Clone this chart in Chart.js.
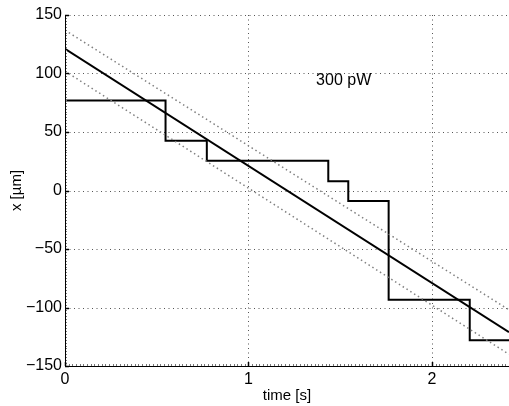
<!DOCTYPE html>
<html><head><meta charset="utf-8">
<script src="https://cdn.jsdelivr.net/npm/chart.js@4/dist/chart.umd.min.js"></script>
<style>html,body{margin:0;padding:0;background:#fff}#wrap{width:509px;height:406px}</style>
</head><body><div id="wrap"><canvas id="c" width="509" height="406"></canvas></div>
<script>
// ---- data ----
const stepTimes   = [0, 0.548, 0.773, 1.435, 1.544, 1.764, 2.206, 2.42];
const stepValues  = [77, 42.5, 25.5, 8, -9, -93.3, -128, -128];
const fitTimes    = [0, 2.42];
const fitValues   = [121, -121];
const upperValues = [137, -102];
const lowerValues = [102, -140];
const xTicks = [0, 1, 2];
const yTicks = [-150, -100, -50, 0, 50, 100, 150];
const annotationText = '300 pW';
const annotationAt = [1.519, 94];

const FONT = "'Liberation Sans', Arial, Helvetica, sans-serif";
const pts = (xs, ys) => xs.map((x, i) => ({x: x, y: ys[i]}));

const axesPlugin = {
  id: 'matlabAxes',
  beforeDatasetsDraw(chart) {
    const {ctx, chartArea: a, scales: {x, y}} = chart;
    ctx.save();
    ctx.strokeStyle = '#555';
    ctx.lineWidth = 1;
    ctx.setLineDash([1, 3.5]);
    xTicks.forEach(v => {
      if (v === x.min) return;
      const px = Math.round(x.getPixelForValue(v)) + 0.5;
      ctx.beginPath(); ctx.moveTo(px, a.top); ctx.lineTo(px, a.bottom); ctx.stroke();
    });
    yTicks.forEach(v => {
      if (v === y.min) return;
      const py = Math.round(y.getPixelForValue(v)) + 0.5;
      ctx.beginPath(); ctx.moveTo(a.left, py); ctx.lineTo(a.right, py); ctx.stroke();
    });
    ctx.restore();
  },
  afterDatasetsDraw(chart) {
    const {ctx, chartArea: a, scales: {x, y}} = chart;
    ctx.save();
    // minor ticks
    ctx.strokeStyle = '#777';
    ctx.lineWidth = 1;
    for (let v = y.min; v <= y.max; v += 2.5) {
      const py = Math.round(y.getPixelForValue(v)) + 0.5;
      ctx.beginPath(); ctx.moveTo(a.left, py); ctx.lineTo(a.left + 2, py); ctx.stroke();
    }
    for (let v = x.min; v <= x.max; v += 0.02) {
      const px = Math.round(x.getPixelForValue(v)) + 0.5;
      ctx.beginPath(); ctx.moveTo(px, a.bottom); ctx.lineTo(px, a.bottom - 2); ctx.stroke();
    }
    // axes
    ctx.strokeStyle = '#000';
    ctx.lineWidth = 1;
    const lx = Math.round(a.left) + 0.5, by = Math.round(a.bottom) + 0.5;
    ctx.beginPath(); ctx.moveTo(lx, a.top); ctx.lineTo(lx, by); ctx.lineTo(a.right, by); ctx.stroke();
    // major ticks
    ctx.lineWidth = 1.5;
    yTicks.forEach(v => {
      const py = Math.round(y.getPixelForValue(v)) + 0.5;
      ctx.beginPath(); ctx.moveTo(a.left, py); ctx.lineTo(a.left + 4, py); ctx.stroke();
    });
    xTicks.forEach(v => {
      const px = Math.round(x.getPixelForValue(v)) + 0.5;
      ctx.beginPath(); ctx.moveTo(px, a.bottom); ctx.lineTo(px, a.bottom - 4); ctx.stroke();
    });
    // annotation
    ctx.fillStyle = '#000';
    ctx.font = '16px ' + FONT;
    ctx.textAlign = 'center';
    ctx.textBaseline = 'middle';
    ctx.fillText(annotationText, x.getPixelForValue(annotationAt[0]), y.getPixelForValue(annotationAt[1]));
    ctx.restore();
  }
};

new Chart(document.getElementById('c'), {
  type: 'line',
  data: {
    datasets: [
      {data: pts(fitTimes, upperValues), borderColor: '#808080', borderWidth: 1.5, borderDash: [1.5, 3], pointRadius: 0, fill: false},
      {data: pts(fitTimes, lowerValues), borderColor: '#808080', borderWidth: 1.5, borderDash: [1.5, 3], pointRadius: 0, fill: false},
      {data: pts(fitTimes, fitValues), borderColor: '#000', borderWidth: 2, pointRadius: 0, fill: false},
      {data: pts(stepTimes, stepValues), borderColor: '#000', borderWidth: 2, pointRadius: 0, fill: false, stepped: 'before'}
    ]
  },
  options: {
    responsive: false,
    animation: false,
    devicePixelRatio: 1,
    layout: {padding: {top: 15, left: 0, right: 0, bottom: 0}},
    plugins: {legend: {display: false}, tooltip: {enabled: false}},
    scales: {
      x: {
        type: 'linear', min: 0, max: 2.42,
        afterBuildTicks(s) { s.ticks = xTicks.map(v => ({value: v})); },
        afterFit(s) { s.height = 40; },
        grid: {display: false, drawTicks: false},
        border: {display: false},
        ticks: {color: '#000', font: {size: 16, family: FONT}, padding: 4, maxRotation: 0, autoSkip: false},
        title: {display: true, text: 'time [s]', color: '#000', font: {size: 15, family: FONT}, padding: {top: 0, bottom: 1}}
      },
      y: {
        type: 'linear', min: -150, max: 150,
        afterBuildTicks(s) { s.ticks = yTicks.map(v => ({value: v})); },
        afterFit(s) { s.width = 65; },
        grid: {display: false, drawTicks: false},
        border: {display: false},
        ticks: {color: '#000', font: {size: 16, family: FONT}, padding: 3, autoSkip: false,
                callback: v => (v < 0 ? '\u2212' + Math.abs(v) : String(v))},
        title: {display: true, text: 'x [\u00b5m]', color: '#000', font: {size: 15, family: FONT}, padding: {top: 8, bottom: 0}}
      }
    }
  },
  plugins: [axesPlugin]
});
</script>
</body></html>
